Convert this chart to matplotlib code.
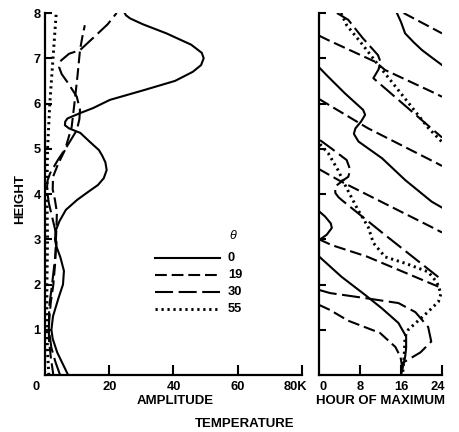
import numpy as np
import matplotlib
matplotlib.use("Agg")
import matplotlib.pyplot as plt
from matplotlib.transforms import ScaledTranslation

plt.rcParams['font.family'] = ['Liberation Sans', 'DejaVu Sans']
plt.rcParams['font.weight'] = 'bold'
plt.rcParams['lines.scale_dashes'] = False

# legend labels (latitude theta)
thetas = ['0', '19', '30', '55']

# ---- amplitude panel: (height, amplitude K) ----
amp_h_0 = [0, 0.25, 0.5, 0.8, 1.0, 1.3, 1.7, 2.0, 2.3, 2.6, 2.85, 3.0, 3.2, 3.4, 3.65, 3.87,
           4.05, 4.2, 4.35, 4.53, 4.7, 4.85, 4.97, 5.15, 5.35, 5.45, 5.52, 5.6, 5.67, 5.79,
           5.9, 6.08, 6.3, 6.5, 6.7, 6.85, 7.0, 7.12, 7.3, 7.55, 7.75, 7.88, 7.95, 8.0]
amp_0 = [7.2, 5.5, 3.8, 2.4, 2.0, 2.5, 4.2, 5.6, 5.9, 4.8, 3.5, 3.1, 3.4, 4.5, 6.5, 10,
         13.5, 16.5, 18.3, 19.2, 18.8, 17.8, 16.8, 14, 11, 7.5, 6.2, 6.3, 7.0, 11,
         15, 20.2, 31, 40.5, 46, 48.6, 49.4, 48.8, 45.5, 37.8, 30.5, 26.5, 25.2, 24.8]

amp_h_19 = [0, 0.4, 0.8, 1.2, 1.6, 2.0, 2.5, 3.0, 3.3, 3.6, 3.87, 4.1, 4.38, 4.65, 4.97,
            5.48, 6.08, 6.6, 7.18, 7.5, 7.73]
amp_19 = [2.6, 1.8, 1.2, 1.3, 1.8, 2.6, 3.2, 3.4, 3.6, 3.7, 3.1, 2.4, 2.5, 4.0, 6.2,
          8.3, 9.3, 10.1, 10.9, 11.7, 12.4]

amp_h_30 = [0, 0.3, 0.6, 1.0, 1.5, 2.0, 2.5, 2.9, 3.2, 3.5, 3.8, 4.1, 4.3, 4.46, 4.75,
            5.05, 5.41, 5.65, 5.86, 6.15, 6.45, 6.65, 6.8, 6.95, 7.1, 7.18, 7.45, 7.75, 8.0]
amp_30 = [4.7, 3.2, 2.0, 1.2, 1.3, 2.2, 3.0, 3.6, 3.2, 2.2, 1.2, 0.6, 0.8, 1.6, 4.0,
          6.8, 9.9, 10.7, 10.9, 9.9, 7.2, 5.2, 4.4, 5.0, 7.5, 10.9, 15, 19.5, 22.3]

amp_h_55 = [0, 0.5, 1, 2, 3, 4, 5, 6, 7, 8]
amp_55 = [1.2, 0.8, 0.6, 0.6, 0.8, 0.6, 0.8, 1.5, 2.5, 3.5]

# ---- phase panel: (height, hour of maximum), None = wrap 24 -> 0 ----
ph_h_0 = [8.0, 7.8, 7.55, 7.35, 7.18, 7.0, 6.85, None,
          6.8, 6.59, 6.22, 5.86, 5.75, 5.6, 5.45, 5.33, 5.16, 4.79, 4.31, 3.83, 3.7, None,
          3.62, 3.5, 3.35, 3.25, 3.1, 2.98, 2.62, 2.17, 1.77, 1.47, 1.15, 0.85, 0.6, 0.4, 0.0]
ph_0 = [15.2, 16.0, 16.8, 18.5, 20.1, 22.2, 24.0, None,
        0.0, 1.8, 5.1, 8.6, 9.0, 8.2, 7.1, 6.8, 7.7, 12.3, 16.8, 22.0, 24.0, None,
        0.0, 1.2, 2.3, 2.5, 1.5, 0.0, 0.0, 4.4, 9.0, 12.3, 15.5, 17.0, 17.0, 16.8, 16.0]

ph_h_19 = [8.0, 7.67, 7.55, None,
           7.5, 7.4, 6.92, 6.74, 6.26, 6.15, None,
           6.1, 5.93, 5.45, 4.68, 4.62, None,
           4.55, 4.27, 3.25, 3.15, None,
           3.0, 2.87, 2.62, 2.0, 1.92, None,
           1.55, 1.44, 1.2, 0.93, 0.62, 0.4, 0.2, 0.0]
ph_19 = [16.5, 22.0, 24, None,
         0, 1.8, 11, 12.9, 22, 24, None,
         0, 2.5, 9.6, 23, 24, None,
         0, 4.4, 22.3, 24, None,
         0, 2.5, 9.3, 22.3, 24, None,
         0, 2.1, 5.7, 11.9, 14.9, 15.9, 16.2, 16.3]

ph_h_30 = [8.0, 7.85, 7.45, 7.07, 6.92, 6.75, 6.56, 6.07, 5.57, 5.25, None,
           5.19, 5.0, 4.75, 4.53, 4.38, 4.31, 4.16, 4.02, 3.93, 3.87, 3.13, 2.1, None,
           1.88, 1.81, 1.7, 1.59, 1.39, 1.06, 0.74, 0.5, 0.26, 0.05]
ph_30 = [3.5, 5.7, 8.5, 11.5, 12.0, 11.6, 10.6, 15.6, 20.7, 24, None,
         0.2, 2.5, 5.4, 6.1, 5.7, 4.8, 3.1, 3.2, 3.8, 4.4, 12.5, 24, None,
         0, 2.2, 9.0, 15.5, 18.8, 21.3, 21.9, 19.8, 16.2, 16.0]

ph_h_55 = [8.0, 7.73, 7.3, 6.89, 6.15, 5.45, 5.15, None,
           5.1, 4.9, 4.53, 4.15, 3.65, 3.27, 2.92, 2.61, 2.47, 2.28, 2.05, 1.8, 1.62,
           1.4, 1.0, 0.85, 0.4, 0.0]
ph_55 = [4.3, 5.4, 8.5, 11.3, 16.5, 21.4, 24, None,
         0.2, 1.8, 3.7, 5.3, 7.6, 9.6, 10.6, 12.9, 16.8, 21.3, 23.0, 23.8, 23.3,
         21.3, 17.4, 16.8, 16.6, 16.3]

styles = [dict(linestyle='-'),
          dict(dashes=(8.5, 3.5)),
          dict(dashes=(13, 4)),
          dict(dashes=(1.6, 2.7), linewidth=2.1)]

fig = plt.figure(figsize=(4.6, 4.32), dpi=100)
ax1 = fig.add_axes([0.0978, 0.1319, 0.5587, 0.838])
ax2 = fig.add_axes([0.6935, 0.1319, 0.2674, 0.838])

amp_sets = [(amp_0, amp_h_0), (amp_19, amp_h_19), (amp_30, amp_h_30), (amp_55, amp_h_55)]
ph_sets = [(ph_0, ph_h_0), (ph_19, ph_h_19), (ph_30, ph_h_30), (ph_55, ph_h_55)]

for (a, h), st in zip(amp_sets, styles):
    kw = dict(color='black', linewidth=1.5)
    kw.update(st)
    ax1.plot(a, h, **kw)

for (p, h), st in zip(ph_sets, styles):
    kw = dict(color='black', linewidth=1.5)
    kw.update(st)
    ax2.plot(np.array(p, dtype=float), np.array(h, dtype=float), **kw)

for ax in (ax1, ax2):
    ax.set_ylim(0, 8)
    for s in ('top', 'right'):
        ax.spines[s].set_visible(False)
    for s in ('left', 'bottom'):
        ax.spines[s].set_linewidth(1.6)
    ax.tick_params(axis='x', direction='in', length=7, width=1.5, pad=4, labelsize=9.3)
    ax.tick_params(axis='y', direction='in', length=5, width=1.5, pad=3, labelsize=9.3)
    ax.set_yticks(range(1, 9))

ax1.set_xlim(0, 80)
ax1.set_xticks([0, 20, 40, 60, 80])
ax1.set_xticklabels(['0', '20', '40', '60', '80K'])
ax1.set_yticklabels([str(i) for i in range(1, 9)])
ax1.xaxis.get_major_ticks()[0].tick1line.set_visible(False)

ax2.set_xlim(0, 24)
ax2.set_xticks([0, 8, 16, 24])
ax2.set_xticklabels(['0', '8', '16', '24'])
ax2.set_yticklabels([])
ax2.xaxis.get_major_ticks()[0].tick1line.set_visible(False)

# nudge a few tick labels like the original
def nudge(label, dx_px):
    label.set_transform(label.get_transform() + ScaledTranslation(dx_px / 100.0, 0, fig.dpi_scale_trans))

xl1 = ax1.get_xticklabels()
nudge(xl1[0], -9)
nudge(xl1[4], -7)
xl2 = ax2.get_xticklabels()
nudge(xl2[0], 4)
nudge(xl2[3], -4)

# legend
leg_y = [0.323, 0.276, 0.229, 0.182]
for (a, h), st, lab, y in zip(amp_sets, styles, thetas, leg_y):
    kw = dict(color='black', linewidth=1.5)
    kw.update(st)
    ax1.plot([0.428, 0.681], [y, y], transform=ax1.transAxes, **kw)
    ax1.text(0.712, y, lab, transform=ax1.transAxes, ha='left', va='center', fontsize=9.3)
ax1.text(0.718, 0.385, '\u03b8', transform=ax1.transAxes, ha='left', va='center',
         fontsize=9, fontweight='normal', fontstyle='italic')

fig.text(20 / 460, 1 - 199 / 432, 'HEIGHT', rotation=90, ha='center', va='center', fontsize=9.5)
fig.text(175 / 460, 1 - 401 / 432, 'AMPLITUDE', ha='center', va='center', fontsize=9.5)
fig.text(381 / 460, 1 - 401 / 432, 'HOUR OF MAXIMUM', ha='center', va='center', fontsize=9.5)
fig.text(245 / 460, 1 - 424 / 432, 'TEMPERATURE', ha='center', va='center', fontsize=9.5)

fig.savefig('out.png', dpi=100)
